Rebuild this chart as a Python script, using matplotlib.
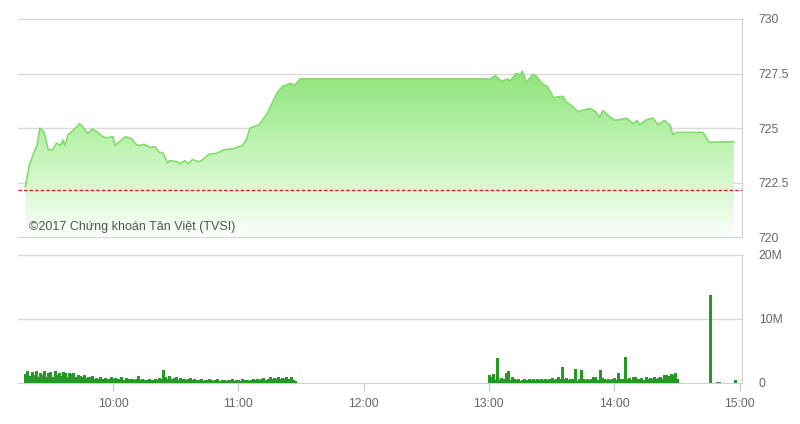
import matplotlib
matplotlib.use('Agg')
import matplotlib.pyplot as plt
import numpy as np
from matplotlib.colors import LinearSegmentedColormap

# price line (time, index value)
price_times = ['9:18', '9:20', '9:22', '9:23.6', '9:25', '9:27', '9:29', '9:31', '9:33', '9:35',
               '9:36', '9:37', '9:38.5', '9:41', '9:44', '9:46', '9:48', '9:50', '9:52', '9:55',
               '9:57', '10:00', '10:01', '10:04', '10:06', '10:09', '10:10.5', '10:12', '10:15', '10:18',
               '10:20', '10:22', '10:24', '10:26', '10:27', '10:31', '10:32', '10:34.5', '10:36', '10:38',
               '10:41', '10:43', '10:46', '10:50', '10:53', '10:57.5', '11:02', '11:04', '11:05.6', '11:10',
               '11:14', '11:15', '11:18.5', '11:21', '11:25', '11:27', '11:29.5', '13:00.5', '13:03', '13:06',
               '13:09', '13:10', '13:13', '13:15', '13:16', '13:18', '13:21', '13:22.5', '13:26', '13:28',
               '13:31', '13:35.5', '13:37', '13:40', '13:42.6', '13:44.6', '13:48.4', '13:51', '13:53', '13:54.6',
               '13:58', '14:00.4', '14:03', '14:06', '14:09', '14:11', '14:12', '14:16', '14:18.6', '14:21',
               '14:24', '14:27', '14:28', '14:30', '14:42.5', '14:45.4', '14:57.3']
price_vals = [722.3, 723.3, 723.85, 724.2, 725.0, 724.8, 724.0, 724.0, 724.3, 724.2,
              724.45, 724.2, 724.7, 724.9, 725.2, 725.0, 724.75, 724.95, 724.85, 724.6,
              724.55, 724.6, 724.2, 724.45, 724.6, 724.5, 724.3, 724.2, 724.25, 724.1,
              724.15, 723.9, 723.85, 723.4, 723.5, 723.45, 723.35, 723.5, 723.35, 723.55,
              723.45, 723.55, 723.8, 723.85, 724.0, 724.05, 724.2, 724.5, 725.0, 725.15,
              725.7, 725.9, 726.6, 726.9, 727.05, 726.95, 727.25, 727.25, 727.4, 727.15,
              727.25, 727.15, 727.5, 727.45, 727.6, 727.1, 727.45, 727.4, 727.0, 726.9,
              726.4, 726.45, 726.2, 726.0, 725.75, 725.8, 725.9, 725.75, 725.5, 725.8,
              725.5, 725.35, 725.4, 725.45, 725.2, 725.35, 725.15, 725.4, 725.45, 725.15,
              725.35, 725.1, 724.7, 724.8, 724.8, 724.35, 724.37]
ref_price = 722.14

# volume, millions, one bar per minute
vol_morning_start = '9:18'
vol_morning = [1.4, 1.9, 1.1, 1.7, 1.2, 1.8, 1.0, 1.6, 1.3, 1.8,
               0.9, 1.5, 1.7, 1.0, 1.8, 1.2, 1.6, 1.1, 1.7, 1.5,
               1.0, 1.6, 1.4, 1.5, 0.9, 1.2, 1.1, 1.0, 1.3, 0.8,
               1.0, 0.9, 1.1, 0.7, 0.8, 0.6, 0.9, 0.7, 0.8, 0.6,
               0.7, 0.9, 0.6, 0.8, 0.7, 0.6, 0.9, 0.5, 0.8, 0.7,
               0.6, 0.7, 0.4, 0.6, 1.1, 0.5, 0.6, 0.4, 0.5, 0.7,
               0.5, 0.4, 0.6, 0.5, 0.8, 0.6, 2.0, 1.0, 0.7, 1.1,
               0.6, 0.8, 0.9, 0.5, 0.8, 0.6, 0.7, 0.5, 0.6, 0.8,
               0.5, 0.6, 0.4, 0.5, 0.6, 0.3, 0.5, 0.4, 0.7, 0.5,
               0.3, 0.4, 0.6, 0.3, 0.5, 0.4, 0.3, 0.5, 0.4, 0.6,
               0.3, 0.4, 0.5, 0.3, 0.6, 0.4, 0.5, 0.3, 0.4, 0.6,
               0.5, 0.7, 0.4, 0.6, 0.8, 0.5, 0.7, 0.9, 0.6, 0.8,
               0.7, 1.0, 0.6, 0.8, 0.7, 0.9, 0.6, 1.0, 0.5, 0.3]
vol_afternoon_start = '13:00'
vol_afternoon = [1.3, 1.0, 1.4, 0.4, 3.9, 0.5, 0.8, 0.6, 1.5, 1.8,
                 0.4, 0.9, 0.6, 0.5, 0.7, 0.3, 0.5, 0.6, 0.4, 0.6,
                 0.5, 0.7, 0.4, 0.6, 0.5, 0.6, 0.4, 0.7, 0.5, 0.6,
                 0.8, 0.5, 0.6, 1.0, 0.7, 2.5, 0.6, 0.8, 0.5, 0.7,
                 0.6, 2.2, 0.3, 0.7, 2.0, 0.6, 0.5, 0.7, 0.4, 0.6,
                 0.9, 1.0, 0.5, 2.0, 0.8, 0.6, 0.4, 0.7, 0.5, 0.6,
                 0.8, 0.5, 1.6, 0.7, 0.6, 4.0, 0.6, 0.8, 0.5, 0.9,
                 1.0, 0.6, 0.7, 0.8, 0.5, 1.0, 0.6, 0.8, 0.7, 0.9,
                 0.6, 0.8, 1.0, 0.7, 1.2, 1.3, 1.1, 1.4, 1.2, 1.6,
                 0.6]
vol_close_times = ['14:46', '14:49', '14:50', '14:58']
vol_close = [13.7, 0.15, 0.15, 0.5]

hour_ticks = [10, 11, 12, 13, 14, 15]
hour_labels = ['10:00', '11:00', '12:00', '13:00', '14:00', '15:00']
price_ticks = [720, 722.5, 725, 727.5, 730]
price_labels = ['720', '722.5', '725', '727.5', '730']
vol_ticks = [0, 10, 20]
vol_labels = ['0', '10M', '20M']


def to_hours(s):
    h, m = s.split(':')
    return int(h) + float(m) / 60.0


px = np.array([to_hours(t) for t in price_times])
py = np.array(price_vals)

vx = []
vy = []
t0 = to_hours(vol_morning_start)
for i, v in enumerate(vol_morning):
    vx.append(t0 + i / 60.0)
    vy.append(v)
t0 = to_hours(vol_afternoon_start)
for i, v in enumerate(vol_afternoon):
    vx.append(t0 + i / 60.0)
    vy.append(v)
for t, v in zip(vol_close_times, vol_close):
    vx.append(to_hours(t))
    vy.append(v)

plt.rcParams['font.family'] = ['Liberation Sans', 'DejaVu Sans']
grid_c = '#dadada'
label_c = '#666666'
xlim = (9.2418, 15.0199)

fig = plt.figure(figsize=(8, 4.24), dpi=100)
ax = fig.add_axes([0.0225, 0.441, 0.905, 0.5142])
ax2 = fig.add_axes([0.0225, 0.0967, 0.905, 0.3019])

# ---- price panel
ax.set_xlim(xlim)
ax.set_ylim(720, 730)
for v in price_ticks:
    ax.axhline(v, color=grid_c, lw=1, clip_on=False, zorder=0)

cmap = LinearSegmentedColormap.from_list('g', ['#fafff9', '#c4f4b8', '#8fe47c'])
grad = np.linspace(0, 1, 256).reshape(-1, 1)
img = ax.imshow(grad, extent=[xlim[0], xlim[1], 720, 727.6], origin='lower',
                cmap=cmap, aspect='auto', zorder=1)
poly = ax.fill_between(px, py, 720, color='none', lw=0)
clip = poly.get_paths()[0]
img.set_clip_path(clip, transform=ax.transData)
ax.plot(px, py, color='#82dc6e', lw=1.2, zorder=3)
ax.axhline(ref_price, color='#e02020', lw=1, ls=(0, (2.5, 1.5)), zorder=4)

ax.text(9.33, 720.46, '©2017 Chứng khoán Tân Việt (TVSI)', fontsize=9, color='#555555',
        va='center', zorder=5)

ax.yaxis.tick_right()
ax.set_yticks(price_ticks)
ax.set_yticklabels(price_labels)
ax.tick_params(axis='y', length=0, pad=12, labelcolor=label_c, labelsize=8.7)
ax.set_xticks([])
for s in ['top', 'left', 'bottom']:
    ax.spines[s].set_visible(False)
ax.spines['right'].set_color('#d2d2d2')

# ---- volume panel
ax2.set_xlim(xlim)
ax2.set_ylim(0, 20)
for v in [10, 20]:
    ax2.axhline(v, color=grid_c, lw=1, clip_on=False, zorder=0)
ax2.vlines(vx, 0, vy, color='#249a24', lw=0.75, antialiased=False, zorder=3)
ax2.yaxis.tick_right()
ax2.set_yticks(vol_ticks)
ax2.set_yticklabels(vol_labels)
ax2.tick_params(axis='y', length=0, pad=12, labelcolor=label_c, labelsize=8.7)
ax2.set_xticks(hour_ticks)
ax2.set_xticklabels(hour_labels)
ax2.tick_params(axis='x', length=6, width=1, color='#c5d2e0', pad=5,
                labelcolor=label_c, labelsize=8.7)
for s in ['top', 'left']:
    ax2.spines[s].set_visible(False)
ax2.spines['right'].set_color('#d2d2d2')
ax2.spines['bottom'].set_color('#c5d2e0')

fig.savefig('out.png', dpi=100)
